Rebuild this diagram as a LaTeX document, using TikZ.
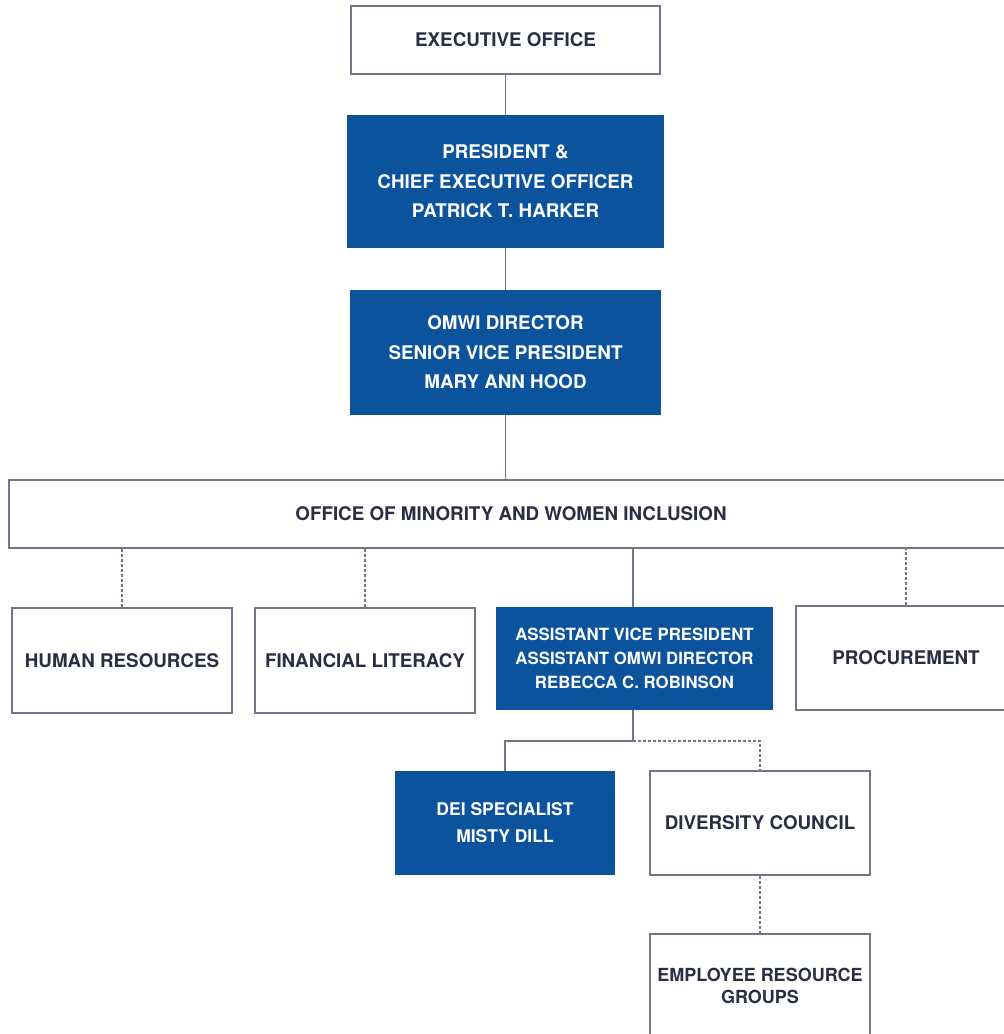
\documentclass[tikz,border=0pt]{standalone}
\usepackage{fontspec}
\setmainfont{TeX Gyre Heros}
\pgfdeclarelayer{bg}
\pgfsetlayers{bg,main}
\definecolor{omwiblue}{RGB}{12,83,158}
\definecolor{inkdark}{RGB}{42,46,69}
\definecolor{rulegray}{RGB}{112,117,136}
\tikzset{
    every node/.style={rectangle, inner sep=0pt, align=center, font=\bfseries\fontsize{18.8}{29.5}\selectfont},
    bluebox/.style={fill=omwiblue, text=white},
    whitebox/.style={draw=rulegray, line width=1.2pt, fill=white, text=inkdark},
    link/.style={draw=rulegray, line width=1.3pt},
    dotlink/.style={link, dash pattern=on 3pt off 2pt}
}

\begin{document}
\begin{tikzpicture}[x=1pt, y=-1pt]
    \useasboundingbox (0,0) rectangle (1004,1034);
    \clip (0,0) rectangle (1004,1034);

    \node (eo) [whitebox, minimum width=309pt, minimum height=68pt] at (505.5, 40) {EXECUTIVE OFFICE};
    \node (pres) [bluebox, minimum width=317pt, minimum height=133pt] at (505.5, 181.5) {PRESIDENT \&\\CHIEF EXECUTIVE OFFICER\\PATRICK T. HARKER};
    \node (omwi) [bluebox, minimum width=311pt, minimum height=125pt] at (505.5, 352.5) {OMWI DIRECTOR\\SENIOR VICE PRESIDENT\\MARY ANN HOOD};
    \node (ooff) [whitebox, minimum width=1004pt, minimum height=68pt] at (511, 514) {OFFICE OF MINORITY AND WOMEN INCLUSION};

    \node (hr) [whitebox, minimum width=220pt, minimum height=105pt] at (122, 660.5) {HUMAN RESOURCES};
    \node (fl) [whitebox, minimum width=220pt, minimum height=105pt] at (365, 660.5) {FINANCIAL LITERACY};
    \node (avp) [bluebox, minimum width=277pt, minimum height=103pt, font=\bfseries\fontsize{16.8}{24}\selectfont] at (634.5, 658.5) {ASSISTANT VICE PRESIDENT\\ASSISTANT OMWI DIRECTOR\\REBECCA C. ROBINSON};
    \node (proc) [whitebox, minimum width=220pt, minimum height=104pt] at (906, 658) {PROCUREMENT};

    \node (dei) [bluebox, minimum width=220pt, minimum height=104pt, font=\bfseries\fontsize{17.5}{27}\selectfont] at (505, 823) {DEI SPECIALIST\\MISTY DILL};
    \node (dc) [whitebox, minimum width=220pt, minimum height=104pt] at (760, 823) {DIVERSITY COUNCIL};
    \node (erg) [whitebox, minimum width=220pt, minimum height=104pt, font=\bfseries\fontsize{18}{22}\selectfont] at (760, 986) {EMPLOYEE RESOURCE\\GROUPS};

    \coordinate (fork) at (633, 741);

    \begin{pgfonlayer}{bg}
        \draw[link] (eo) -- (pres);
        \draw[link] (pres) -- (omwi);
        \draw[link] (omwi.south) -- (omwi.south |- ooff.north);
        \draw[dotlink] (hr.north) -- (hr.north |- ooff.south);
        \draw[dotlink] (fl.north) -- (fl.north |- ooff.south);
        \draw[link] (fork |- avp.north) -- (fork |- ooff.south);
        \draw[dotlink] (proc.north) -- (proc.north |- ooff.south);
        \draw[link] (fork |- avp.south) -- (fork) -| (dei.north);
        \draw[dotlink] (fork) -| (dc.north);
        \draw[dotlink] (dc) -- (erg);
    \end{pgfonlayer}
\end{tikzpicture}
\end{document}
